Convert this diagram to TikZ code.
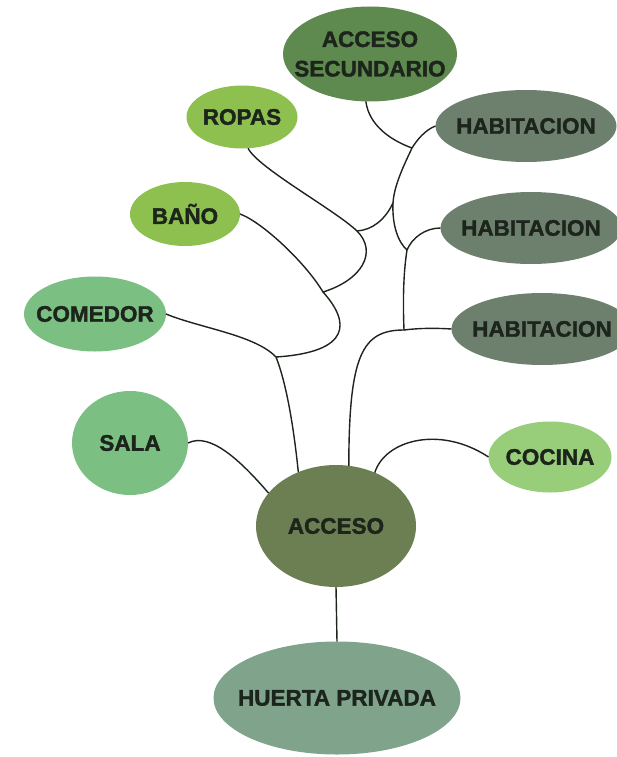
\documentclass[tikz,border=0pt]{standalone}
\usepackage{fontspec}
\setmainfont{Liberation Sans}
\newfontfamily\tagfont{Liberation Sans Bold}[FakeBold=1.6]
\usetikzlibrary{shapes.geometric}
\definecolor{planSec}{HTML}{5F8A4F}
\definecolor{planRopas}{HTML}{8DC04F}
\definecolor{planHab}{HTML}{6D806D}
\definecolor{planComedor}{HTML}{7BBF82}
\definecolor{planCocina}{HTML}{98CD7A}
\definecolor{planAcceso}{HTML}{6B7F52}
\definecolor{planHuerta}{HTML}{7FA48B}
\definecolor{planInk}{HTML}{1C241C}

\begin{document}
\begin{tikzpicture}[x=1pt,y=-1pt,
  room/.style={ellipse, fill=#1, inner sep=0pt, outer sep=0pt},
  tag/.style={font=\tagfont\fontsize{22.5}{29.5}\selectfont, text=planInk,
    align=center, inner sep=0pt},
  link/.style={draw=planInk, line width=1.4pt}]
  \useasboundingbox (0,0) rectangle (616,757);

  \node[room=planSec, minimum width=174, minimum height=95,
    label={[tag]center:ACCESO\\SECUNDARIO}] (sec) at (370,54) {};
  \node[room=planRopas, minimum width=111, minimum height=63,
    label={[tag]center:ROPAS}] (ropas) at (242,117) {};
  \node[room=planRopas, minimum width=110, minimum height=64,
    label={[tag]center:BAÑO}] (bano) at (185,214) {};
  \node[room=planComedor, minimum width=142, minimum height=75,
    label={[tag]center:COMEDOR}] (comedor) at (95,314) {};
  \node[room=planComedor, minimum width=116, minimum height=104,
    label={[tag]center:SALA}] (sala) at (130,443) {};
  \node[room=planCocina, minimum width=123, minimum height=71,
    label={[tag]center:COCINA}] (cocina) at (550,457) {};
  \node[room=planAcceso, minimum width=160, minimum height=122,
    label={[tag]center:ACCESO}] (acc) at (336,526) {};
  \node[room=planHuerta, minimum width=247, minimum height=113,
    label={[tag]center:HUERTA PRIVADA}] (huerta) at (337,698) {};

  \foreach \i/\x/\y in {1/526/126,2/531/228,3/542/329} {
    \node[room=planHab, minimum width=181, minimum height=72,
      label={[tag]center:HABITACION}] (hab\i) at (\x,\y) {};
  }

  \coordinate (jSec) at (412,148);
  \coordinate (jSplit) at (393,203);
  \coordinate (jHab2) at (407,250);
  \coordinate (jHab3) at (404,330);
  \coordinate (jRopas) at (357,231);
  \coordinate (jBano) at (323,292);
  \coordinate (jCom) at (276,357);

  \draw[link] (sec.-95) .. controls (369,125) and (390,140) .. (jSec);
  \draw[link] (hab1.west) .. controls (425,130) and (417,140) .. (jSec)
    .. controls (405,163) and (394,185) .. (jSplit)
    .. controls (392,225) and (398,242) .. (jHab2)
    .. controls (403,275) and (403,305) .. (jHab3)
    .. controls (362,330) and (349,355) .. (acc.78);
  \draw[link] (hab2.west) .. controls (425,228) and (412,238) .. (jHab2);
  \draw[link] (hab3.west) .. controls (435,328) and (420,328) .. (jHab3);
  \draw[link] (jSplit) .. controls (385,220) and (372,230) .. (jRopas);

  \draw[link] (ropas.-79) .. controls (258,168) and (335,210) .. (jRopas)
    .. controls (378,252) and (362,280) .. (jBano)
    .. controls (350,322) and (352,352) .. (jCom)
    .. controls (287,385) and (294,430) .. (acc.125);
  \draw[link] (bano.east) .. controls (262,222) and (305,262) .. (jBano);
  \draw[link] (comedor.east) .. controls (200,328) and (255,335) .. (jCom);

  \draw[link] (sala.east) .. controls (210,432) and (240,460) .. (acc.154);
  \draw[link] (acc.54) .. controls (385,440) and (440,425) .. (cocina.west);
  \draw[link] (acc.south) -- (huerta.north);
\end{tikzpicture}
\end{document}
